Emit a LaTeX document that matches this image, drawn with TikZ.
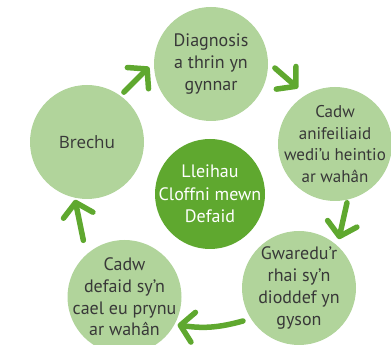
\documentclass[tikz,border=0pt]{standalone}
\usepackage{fontspec}
\setmainfont{PT Sans}
\newfontfamily\brfont{Open Sans}
\usetikzlibrary{arrows.meta,calc}
\definecolor{lightg}{HTML}{B1D49B}
\definecolor{darkg}{HTML}{5FA82F}
\definecolor{txtc}{HTML}{383838}
\tikzset{
  outer/.style={circle,fill=lightg,minimum size=114pt,inner sep=-15pt,text=txtc,align=center,
    font=\fontsize{18}{21.7}\selectfont},
  inner/.style={circle,fill=darkg,minimum size=110pt,inner sep=-15pt,text=white,align=center,
    font=\fontsize{18}{22.5}\selectfont},
  arr/.style={draw=darkg,line width=5.5pt,line cap=round,
    -{Straight Barb[length=13pt,width=30pt,round]}}
}
\begin{document}
\begin{tikzpicture}[x=1pt,y=1pt]
\useasboundingbox (0,0) rectangle (391,345);
\node[outer] (diag) at (211,281) {Diagnosis\\a thrin yn\\gynnar};
\node[outer,font=\fontsize{17}{21.7}\selectfont] (cadw1) at (335,201) {Cadw\\anifeiliaid\\wedi’u heintio\\ar wahân};
\node[outer] (gwar) at (299,57) {Gwaredu’r\\rhai sy’n\\dioddef yn\\gyson};
\node[outer] (cadw2) at (124.5,48) {Cadw\\defaid sy’n\\cael eu prynu\\ar wahân};
\node[outer,font=\brfont\fontsize{17}{20}\selectfont] (brechu) at (87,203) {Brechu};
\node[inner] (centre) at (210,151) {Lleihau\\Cloffni mewn\\Defaid};
\draw[arr] ($(brechu)+(53.5:62)$) -- ($(diag)+(182.8:62)$);
\draw[arr] ($(diag)+(-3.6:64)$) -- ($(cadw1)+(123.5:67)$);
\draw[arr] ($(cadw1)+(-78.5:60)$) -- ($(gwar)+(50.8:63)$);
\draw[arr] ($(gwar)+(210.5:65)$) to[bend left=12] ($(cadw2)+(-27.7:60)$);
\draw[arr] ($(cadw2)+(126:70)$) -- ($(brechu)+(258.3:59)$);
\end{tikzpicture}
\end{document}
